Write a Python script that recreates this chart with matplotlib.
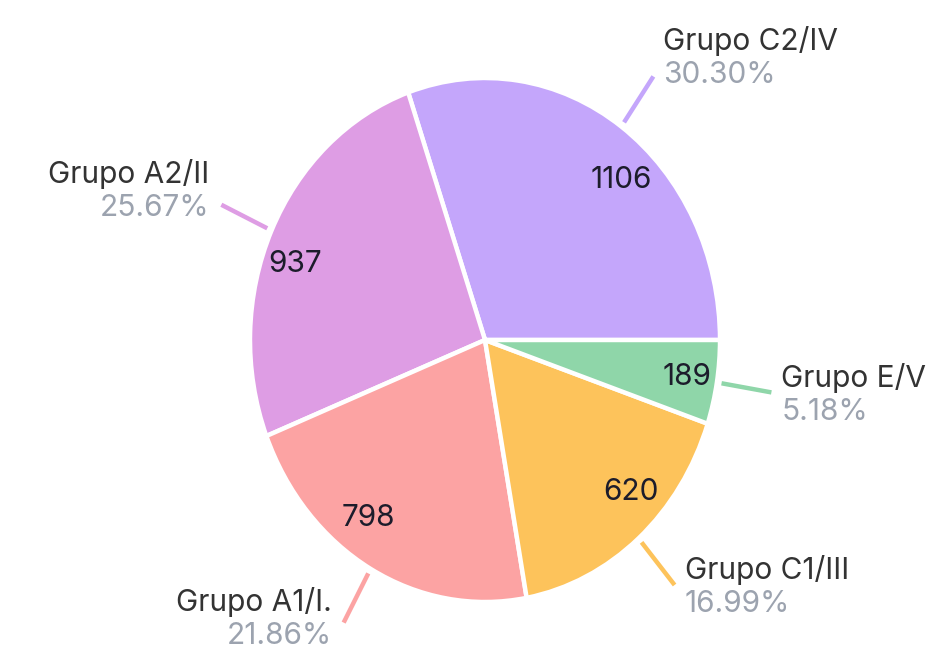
import numpy as np
import matplotlib
matplotlib.use("Agg")
import matplotlib.pyplot as plt

# ---- data ----
categories = ["Grupo C2/IV", "Grupo A2/II", "Grupo A1/I.", "Grupo C1/III", "Grupo E/V"]
values = [1106, 937, 798, 620, 189]
percent_labels = ["30.30%", "25.67%", "21.86%", "16.99%", "5.18%"]

# ---- style ----
colors = ["#c4a6fb", "#de9de4", "#fca3a3", "#fdc35b", "#8fd6a9"]
name_color = "#333333"
pct_color = "#9ca3af"
num_color = "#1c1c2b"
font = ["Inter", "DejaVu Sans"]
# per-label vertical shift of the outer text block (pixels, up positive)
label_dy = [18, 14, 4, -2, -3]
# per-label angular nudge (degrees) and radius of inner value labels
num_dtheta = [-8, 5, -7, 6, 0]
num_r = [0.84, 0.86, 0.84, 0.85, 0.87]

W, H = 937, 660
fig = plt.figure(figsize=(W / 100, H / 100), dpi=100)
cx, cy, rx, ry = 485, 340, 235, 262
ax = fig.add_axes([(cx - rx) / W, (H - cy - ry) / H, 2 * rx / W, 2 * ry / H])

wedges, _ = ax.pie(values, colors=colors, startangle=0, counterclock=True,
                   radius=1.0,
                   wedgeprops=dict(edgecolor="white", linewidth=3.2))
ax.set_aspect("auto")
ax.set_xlim(-1, 1)
ax.set_ylim(-1, 1)
ax.axis("off")

px_x = 1.0 / rx  # one pixel in data units (x)
px_y = 1.0 / ry  # one pixel in data units (y)

for i, w in enumerate(wedges):
    mid_deg = (w.theta1 + w.theta2) / 2
    mid = np.deg2rad(mid_deg)
    c, s = np.cos(mid), np.sin(mid)
    # inner value
    nt = np.deg2rad(mid_deg + num_dtheta[i])
    ax.text(num_r[i] * np.cos(nt), num_r[i] * np.sin(nt), str(values[i]),
            ha="center", va="center",
            fontsize=21.5, color=num_color, family=font)
    # leader line
    r0, r1 = 1.02, 1.235
    ax.plot([r0 * c, r1 * c], [r0 * s, r1 * s], color=colors[i], lw=3.2,
            solid_capstyle="butt", clip_on=False)
    ex, ey = r1 * c, r1 * s
    right = c >= 0
    tx = ex + (10 if right else -12) * px_x
    ha = "left" if right else "right"
    yc = ey + label_dy[i] * px_y
    ax.text(tx, yc + 17 * px_y, categories[i], ha=ha, va="center",
            fontsize=21.5, color=name_color, family=font, clip_on=False)
    ax.text(tx, yc - 17 * px_y, percent_labels[i], ha=ha, va="center",
            fontsize=21.5, color=pct_color, family=font, clip_on=False)

fig.savefig("out.png", dpi=100, facecolor="white")
